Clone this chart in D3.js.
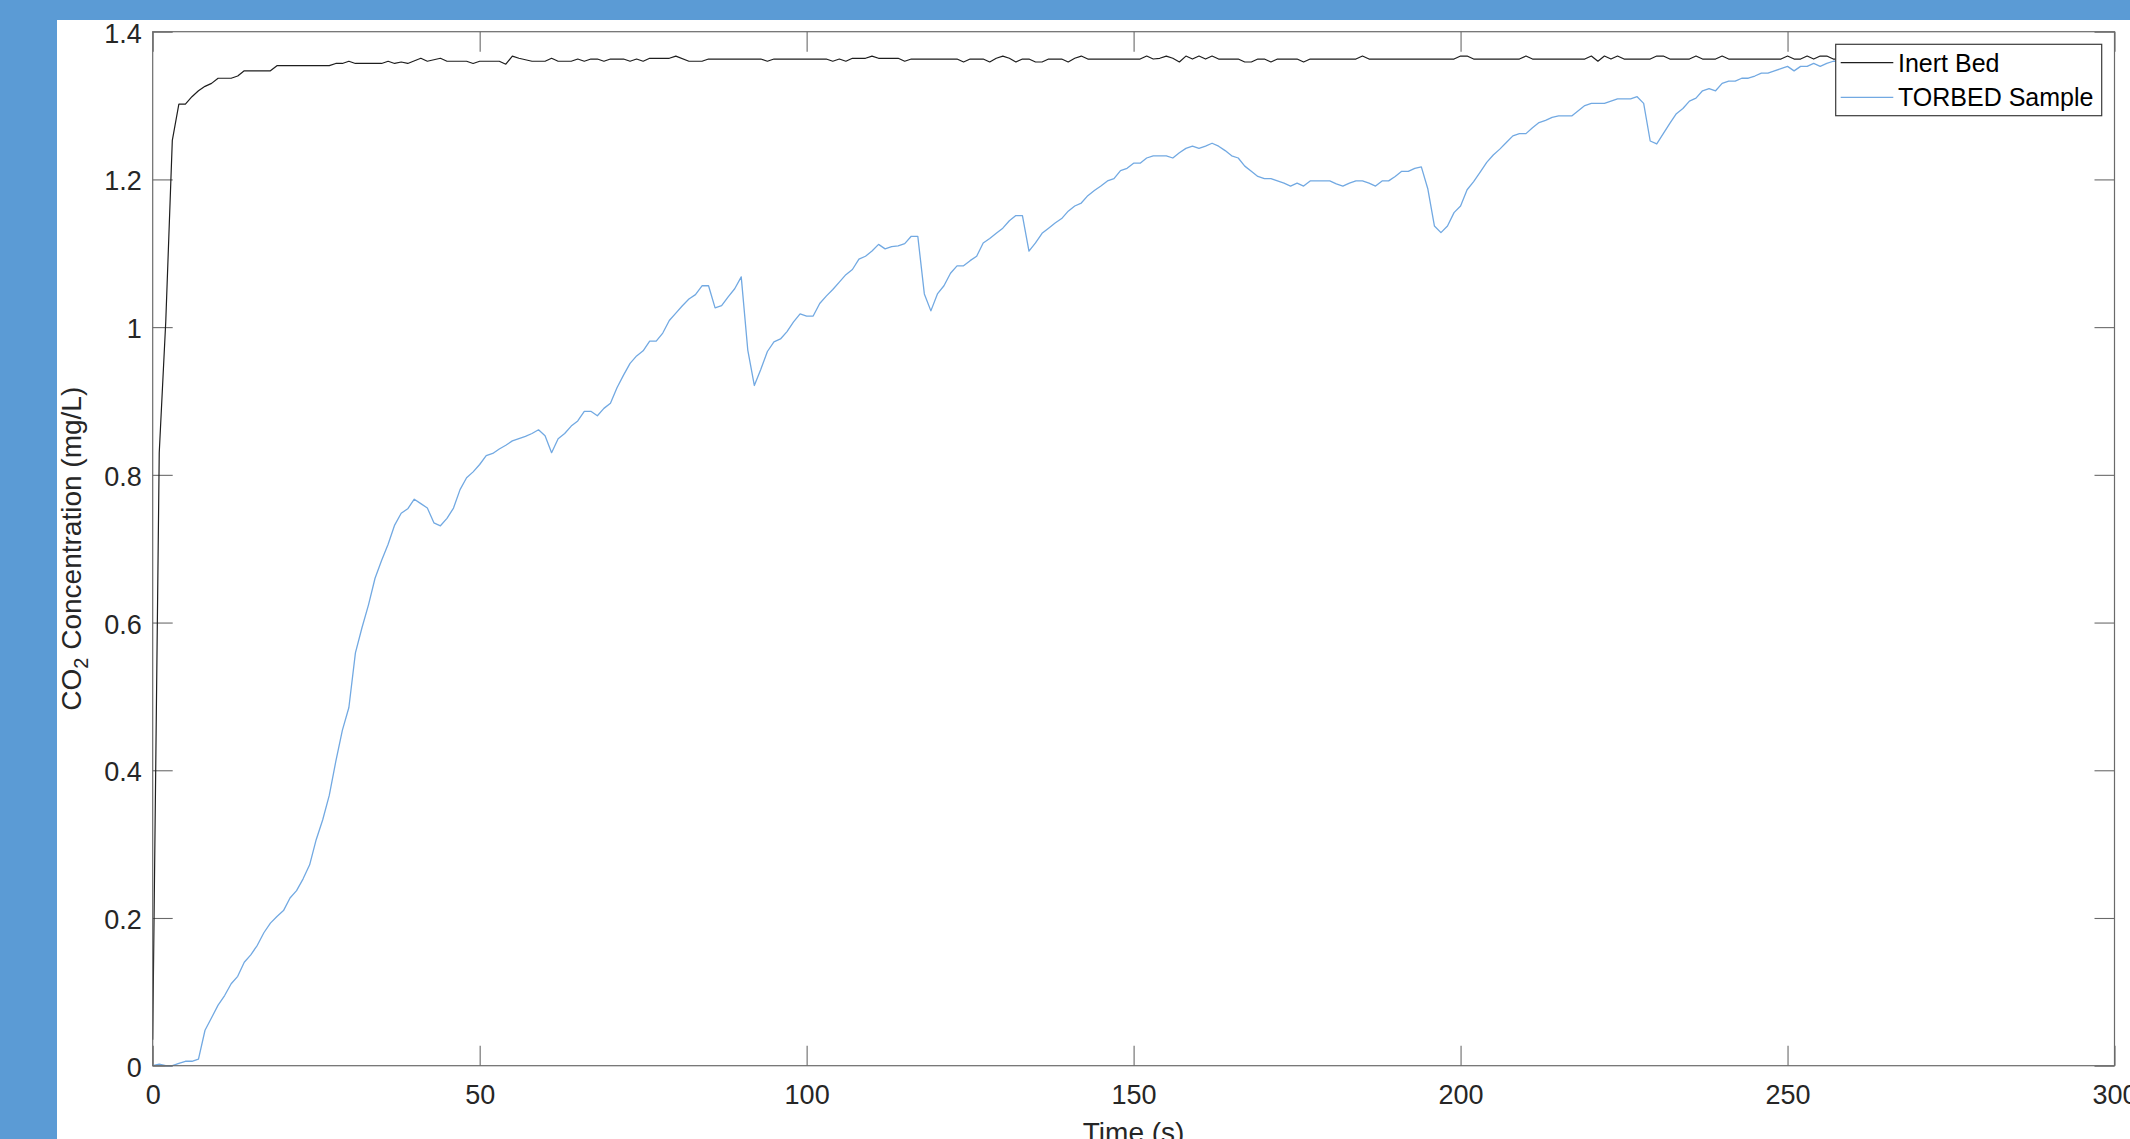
<!DOCTYPE html>
<html>
<head>
<meta charset="utf-8">
<script src="https://cdn.jsdelivr.net/npm/d3@7"></script>
<style>
  html, body { margin: 0; padding: 0; background: #5b9bd5; overflow: hidden; }
  svg { display: block; }
  text { font-family: "Liberation Sans", Arial, sans-serif; }
</style>
</head>
<body>
<svg id="chart" width="2130" height="1139"></svg>
<script>
// CO2 breakthrough: inert bed vs TORBED sample
const xTicks = [0, 50, 100, 150, 200, 250, 300];
const yTicks = [0, 0.2, 0.4, 0.6, 0.8, 1, 1.2, 1.4];
const seriesNames = ["Inert Bed", "TORBED Sample"];
const seriesColors = ["#1e1e1e", "#72a9e2"];

// Inert bed (s, mg/L)
const inertTime = [0, 1, 2, 3, 4, 5, 6, 7, 8, 9, 10, 12, 13, 14, 18, 19, 27, 28, 29, 30, 31, 35, 36,
  37, 38, 39, 41, 42, 44, 45, 48, 49, 50, 53, 54, 55, 56, 58, 60, 61, 62, 64, 65, 66, 67, 68, 69, 70,
  72, 73, 74, 75, 76, 79, 80, 82, 84, 85, 93, 94, 95, 103, 104, 105, 106, 107, 109, 110, 111, 114, 115,
  116, 123, 124, 125, 127, 128, 129, 130, 131, 132, 133, 134, 135, 136, 137, 139, 140, 141, 142, 143,
  151, 152, 153, 154, 155, 156, 157, 158, 159, 160, 161, 162, 163, 166, 167, 168, 169, 170, 171, 172,
  175, 176, 177, 184, 185, 186, 194, 199, 200, 201, 202, 209, 210, 211, 219, 220, 221, 222, 223, 224,
  225, 229, 230, 231, 232, 235, 236, 237, 239, 240, 241, 249, 250, 251, 252, 253, 254, 255, 256, 257,
  270, 285, 298];
const inertConc = [0.035, 0.83, 1.008, 1.253, 1.302, 1.302, 1.312, 1.320, 1.326, 1.330, 1.337, 1.337, 1.340, 1.347, 1.347, 1.354, 1.354, 1.357, 1.357, 1.360, 1.357, 1.357, 1.360,
  1.357, 1.359, 1.357, 1.364, 1.360, 1.364, 1.360, 1.360, 1.357, 1.360, 1.360, 1.356, 1.367, 1.364, 1.360, 1.360, 1.364, 1.360, 1.360, 1.363, 1.360, 1.363, 1.363, 1.360, 1.363,
  1.363, 1.360, 1.363, 1.360, 1.364, 1.364, 1.367, 1.360, 1.360, 1.363, 1.363, 1.360, 1.363, 1.363, 1.360, 1.363, 1.360, 1.364, 1.364, 1.367, 1.364, 1.364, 1.360,
  1.363, 1.363, 1.359, 1.363, 1.363, 1.359, 1.364, 1.367, 1.364, 1.359, 1.363, 1.363, 1.359, 1.359, 1.363, 1.363, 1.359, 1.364, 1.367, 1.363,
  1.363, 1.367, 1.363, 1.364, 1.367, 1.364, 1.359, 1.367, 1.363, 1.367, 1.363, 1.367, 1.363, 1.363, 1.359, 1.359, 1.363, 1.363, 1.359, 1.363,
  1.363, 1.359, 1.363, 1.363, 1.367, 1.363, 1.363, 1.363, 1.367, 1.367, 1.363, 1.363, 1.367, 1.363, 1.363, 1.367, 1.360, 1.367, 1.363, 1.367,
  1.363, 1.363, 1.367, 1.367, 1.363, 1.363, 1.367, 1.363, 1.363, 1.367, 1.363, 1.363, 1.367, 1.363, 1.363, 1.367, 1.363, 1.367, 1.367, 1.363,
  1.363, 1.363, 1.363];

// TORBED sample (s, mg/L), one reading per second
const torbedTime = d3.range(0, 258).concat([270, 285, 298]);
const torbedConc = [
  0.000, 0.002, 0.000, 0.000, 0.003, 0.006, 0.006, 0.009, 0.048, 0.065,
  0.082, 0.095, 0.111, 0.121, 0.140, 0.150, 0.163, 0.180, 0.193, 0.202,
  0.210, 0.227, 0.237, 0.253, 0.272, 0.306, 0.333, 0.366, 0.412, 0.454,
  0.485, 0.559, 0.593, 0.624, 0.660, 0.684, 0.706, 0.732, 0.748, 0.754,
  0.767, 0.761, 0.755, 0.735, 0.731, 0.741, 0.755, 0.780, 0.796, 0.804,
  0.814, 0.826, 0.829, 0.835, 0.840, 0.846, 0.849, 0.852, 0.856, 0.861,
  0.853, 0.830, 0.849, 0.856, 0.866, 0.873, 0.886, 0.886, 0.880, 0.890,
  0.897, 0.918, 0.935, 0.951, 0.961, 0.968, 0.981, 0.981, 0.992, 1.009,
  1.019, 1.029, 1.038, 1.044, 1.056, 1.056, 1.026, 1.029, 1.041, 1.052,
  1.068, 0.969, 0.921, 0.943, 0.967, 0.980, 0.984, 0.994, 1.007, 1.018,
  1.015, 1.015, 1.032, 1.042, 1.051, 1.061, 1.071, 1.078, 1.092, 1.096,
  1.103, 1.112, 1.106, 1.109, 1.110, 1.113, 1.123, 1.123, 1.045, 1.022,
  1.045, 1.056, 1.073, 1.083, 1.083, 1.090, 1.096, 1.114, 1.120, 1.127,
  1.134, 1.144, 1.151, 1.151, 1.103, 1.114, 1.127, 1.134, 1.141, 1.147,
  1.157, 1.164, 1.168, 1.178, 1.185, 1.191, 1.198, 1.201, 1.212, 1.215,
  1.222, 1.222, 1.229, 1.232, 1.232, 1.232, 1.229, 1.236, 1.242, 1.245,
  1.242, 1.245, 1.249, 1.245, 1.239, 1.232, 1.229, 1.218, 1.211, 1.204,
  1.201, 1.201, 1.198, 1.195, 1.191, 1.195, 1.191, 1.198, 1.198, 1.198,
  1.198, 1.194, 1.191, 1.195, 1.198, 1.198, 1.195, 1.191, 1.198, 1.198,
  1.204, 1.211, 1.211, 1.215, 1.217, 1.187, 1.137, 1.128, 1.137, 1.155,
  1.164, 1.186, 1.197, 1.210, 1.223, 1.233, 1.241, 1.250, 1.259, 1.262,
  1.262, 1.270, 1.277, 1.280, 1.284, 1.286, 1.286, 1.286, 1.293, 1.300,
  1.303, 1.303, 1.303, 1.306, 1.309, 1.309, 1.309, 1.312, 1.303, 1.252,
  1.248, 1.262, 1.276, 1.289, 1.296, 1.306, 1.310, 1.320, 1.323, 1.320,
  1.330, 1.333, 1.333, 1.337, 1.337, 1.340, 1.344, 1.344, 1.347, 1.350,
  1.353, 1.347, 1.353, 1.353, 1.357, 1.353, 1.357, 1.360,
  1.362, 1.364, 1.365];

const svg = d3.select("#chart");
const W = 2130, H = 1139;
const plot = { left: 152.7, right: 2114.5, top: 31.7, bottom: 1065.7 };

// page background
svg.append("rect").attr("width", W).attr("height", H).attr("fill", "#5b9bd5");
svg.append("rect").attr("x", 57).attr("y", 20).attr("width", W - 57).attr("height", H - 20).attr("fill", "#ffffff");

const x = d3.scaleLinear().domain([0, 300]).range([plot.left, plot.right]);
const y = d3.scaleLinear().domain([0, 1.4]).range([plot.bottom, plot.top]);

const axisColor = "#6a6a6a";
const textColor = "#262626";
const tickLen = 20;

function styleAxis(g) {
  g.select(".domain").remove();
  g.selectAll(".tick line").attr("stroke", axisColor).attr("stroke-width", 1.1);
  g.selectAll(".tick text").attr("fill", textColor).attr("font-size", 27)
    .attr("font-family", '"Liberation Sans", Arial, sans-serif');
}

const fmtY = d => d3.format("~g")(d);

svg.append("g").attr("transform", `translate(0,${plot.bottom})`)
  .call(d3.axisBottom(x).tickValues(xTicks).tickSizeInner(-tickLen).tickSizeOuter(0).tickPadding(19))
  .call(styleAxis);
svg.append("g").attr("transform", `translate(0,${plot.top})`)
  .call(d3.axisTop(x).tickValues(xTicks).tickSizeInner(-tickLen).tickSizeOuter(0).tickFormat(""))
  .call(styleAxis);
const yAxisG = svg.append("g").attr("transform", `translate(${plot.left},0)`)
  .call(d3.axisLeft(y).tickValues(yTicks).tickFormat(fmtY).tickSizeInner(-tickLen).tickSizeOuter(0).tickPadding(11))
  .call(styleAxis);
yAxisG.selectAll(".tick text").attr("dy", "0.39em");
svg.append("g").attr("transform", `translate(${plot.right},0)`)
  .call(d3.axisRight(y).tickValues(yTicks).tickSizeInner(-tickLen).tickSizeOuter(0).tickFormat(""))
  .call(styleAxis);

// data lines
const line = d3.line().x(d => x(d[0])).y(d => y(d[1]));
const inertData = inertTime.map((t, i) => [t, inertConc[i]]);
const torbedData = torbedTime.map((t, i) => [t, torbedConc[i]]);

svg.append("path").datum(inertData).attr("d", line)
  .attr("fill", "none").attr("stroke", seriesColors[0]).attr("stroke-width", 1.2)
  .attr("stroke-linejoin", "round");
svg.append("path").datum(torbedData).attr("d", line)
  .attr("fill", "none").attr("stroke", seriesColors[1]).attr("stroke-width", 1.3)
  .attr("stroke-linejoin", "round");

// plot frame
svg.append("rect")
  .attr("x", plot.left).attr("y", plot.top)
  .attr("width", plot.right - plot.left).attr("height", plot.bottom - plot.top)
  .attr("fill", "none").attr("stroke", axisColor).attr("stroke-width", 1.2);

// axis titles
svg.append("text")
  .attr("x", (plot.left + plot.right) / 2).attr("y", 1142)
  .attr("text-anchor", "middle").attr("font-size", 28).attr("fill", textColor)
  .text("Time (s)");

const yLabel = svg.append("text")
  .attr("transform", `translate(81,${(plot.top + plot.bottom) / 2}) rotate(-90)`)
  .attr("text-anchor", "middle").attr("font-size", 28).attr("fill", textColor);
yLabel.append("tspan").text("CO");
yLabel.append("tspan").attr("font-size", 20).attr("dy", 7).text("2");
yLabel.append("tspan").attr("dy", -7).text(" Concentration (mg/L)");

// legend
const lg = { x: 1835.7, y: 44.3, w: 266, h: 71.4 };
svg.append("rect").attr("x", lg.x).attr("y", lg.y).attr("width", lg.w).attr("height", lg.h)
  .attr("fill", "#ffffff").attr("stroke", "#3a3a3a").attr("stroke-width", 1.2);
const rowY = [62.7, 97.3];
seriesNames.forEach((name, i) => {
  svg.append("line")
    .attr("x1", 1840.7).attr("x2", 1893.3).attr("y1", rowY[i]).attr("y2", rowY[i])
    .attr("stroke", seriesColors[i]).attr("stroke-width", 1.3);
  svg.append("text")
    .attr("x", 1898).attr("y", rowY[i]).attr("dy", "0.36em")
    .attr("font-size", 25).attr("fill", "#000000")
    .text(name);
});
</script>
</body>
</html>
